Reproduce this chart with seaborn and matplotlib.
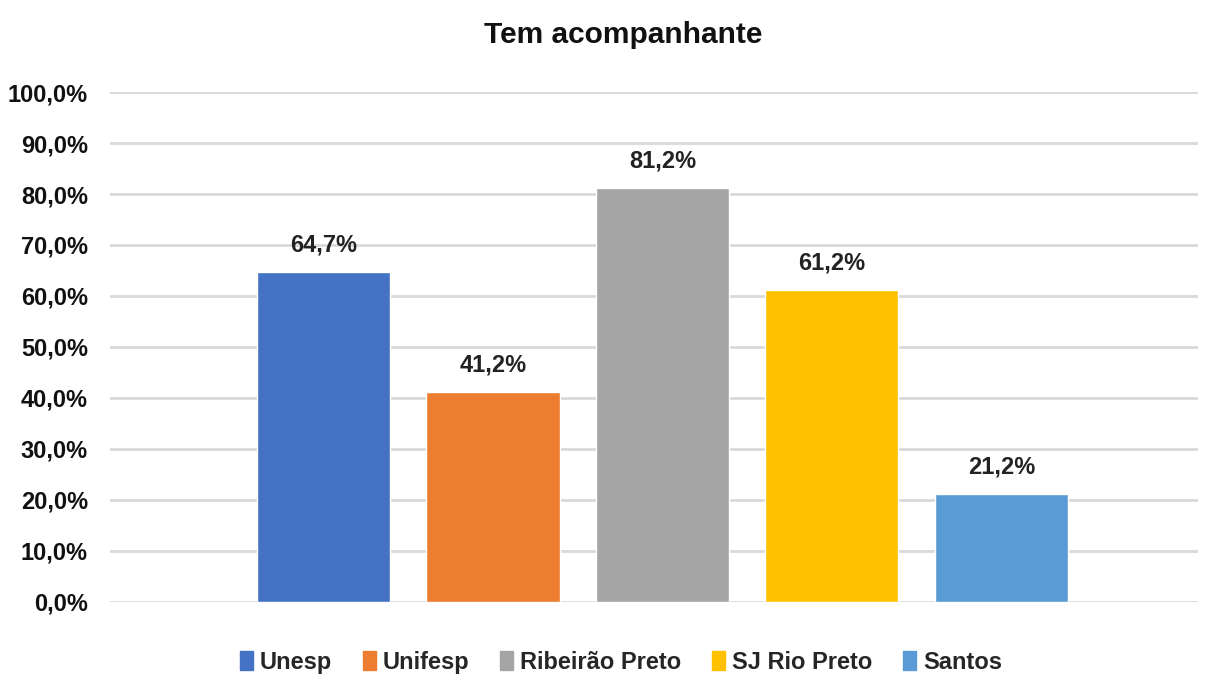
import matplotlib
matplotlib.use("Agg")
import matplotlib.pyplot as plt
from matplotlib import font_manager
from matplotlib.ticker import FuncFormatter
from matplotlib.patches import Patch
import seaborn as sns
import pandas as pd

campus = ['Unesp', 'Unifesp', 'Ribeirão Preto', 'SJ Rio Preto', 'Santos']
valores = [64.7, 41.2, 81.2, 61.2, 21.2]
cores = ['#4472C4', '#ED7D31', '#A5A5A5', '#FFC000', '#5B9BD5']

df = pd.DataFrame({'campus': campus, 'valor': valores})

sns.set_style('white')
nomes = {f.name for f in font_manager.fontManager.ttflist}
fam = 'Liberation Sans Narrow' if 'Liberation Sans Narrow' in nomes else 'Liberation Sans'
plt.rcParams['font.family'] = [fam, 'DejaVu Sans']
plt.rcParams['font.weight'] = 'bold'

fig = plt.figure(figsize=(12.06, 6.77), dpi=100)
ax = fig.add_axes([0.0912, 0.1108, 0.9022, 0.7533])

sns.barplot(data=df, x='campus', y='valor', hue='campus', palette=cores,
            width=0.785, dodge=False, legend=False, ax=ax, saturation=1)

for i, v in enumerate(valores):
    ax.text(i, v + 3, f'{v:.1f}%'.replace('.', ','), ha='center', va='bottom',
            fontsize=17, fontweight='bold', color='#222222')

ax.set_ylim(0, 100)
ax.set_xlim(-1.26, 5.16)
ax.set_yticks(range(0, 101, 10))
ax.yaxis.set_major_formatter(FuncFormatter(lambda y, _: f'{y:.1f}%'.replace('.', ',')))
ax.tick_params(axis='y', labelsize=17, pad=16, length=0, colors='#111111')
ax.set_xticks([])
ax.set_xlabel('')
ax.set_ylabel('')
ax.grid(axis='y', color='#D9D9D9', linewidth=2)
ax.set_axisbelow(True)
for s in ax.spines.values():
    s.set_visible(False)

fig.text(0.5166, 0.948, 'Tem acompanhante', fontsize=21.5, fontweight='bold',
         ha='center', va='center', color='#111111')

handles = [Patch(color=c, label=n) for c, n in zip(cores, campus)]
fig.legend(handles=handles, loc='center', bbox_to_anchor=(0.515, 0.022), ncol=5,
           frameon=False, fontsize=17, handlelength=0.55, handleheight=0.9,
           handletextpad=0.3, columnspacing=1.3)

fig.savefig('out.png', dpi=100)
